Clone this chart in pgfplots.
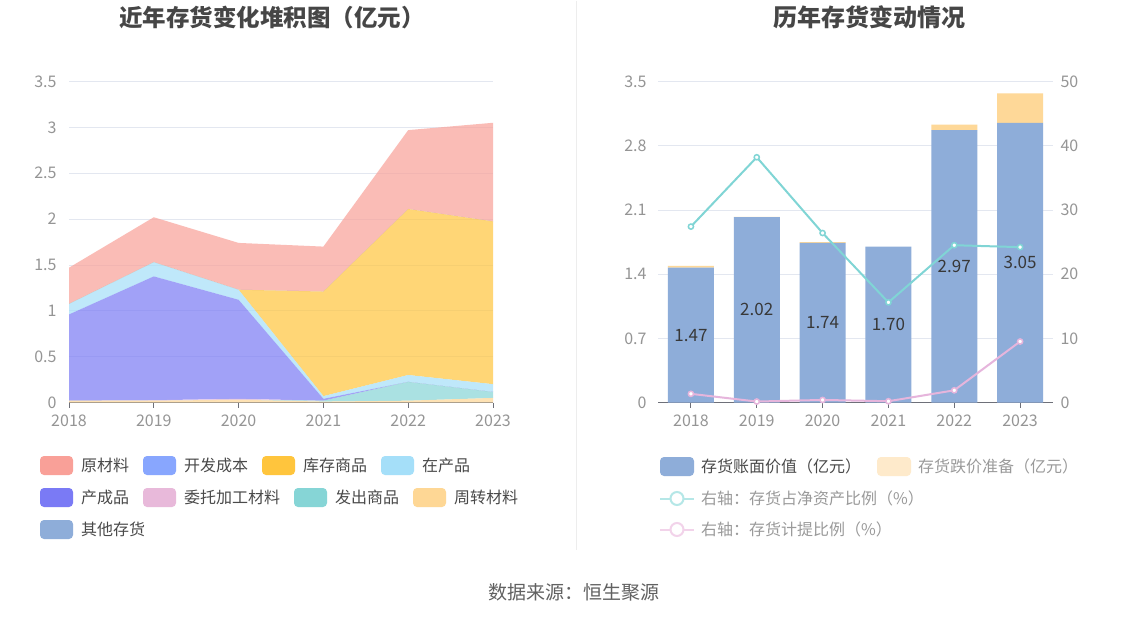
\documentclass[border=0pt]{standalone}
\usepackage{pgfplots}
\pgfplotsset{compat=1.18}
\usepackage{fontspec}
\setmainfont{Noto Sans CJK SC}
\definecolor{tickc}{HTML}{959595}
\definecolor{gridc}{HTML}{E3E7F0}
\definecolor{axisc}{HTML}{6E7079}
\definecolor{titlec}{HTML}{464646}
\definecolor{legc}{HTML}{4A4A4A}
\definecolor{leggrey}{HTML}{9A9A9A}
\definecolor{cRaw}{HTML}{F9A098}
\definecolor{cDev}{HTML}{88A6FE}
\definecolor{cStock}{HTML}{FFC53D}
\definecolor{cWip}{HTML}{A5DFF9}
\definecolor{cFin}{HTML}{7A7AF5}
\definecolor{cEnt}{HTML}{E8B9DA}
\definecolor{cShip}{HTML}{86D5D6}
\definecolor{cTurn}{HTML}{FED795}
\definecolor{cOther}{HTML}{8EADD9}
\definecolor{cBook}{HTML}{8EADD9}
\definecolor{cProv}{HTML}{FED898}
\definecolor{cProvL}{HTML}{FEEACB}
\definecolor{cTeal}{HTML}{80D5D5}
\definecolor{cTealL}{HTML}{B5E7E7}
\definecolor{cPink}{HTML}{E6B5DC}
\definecolor{cPinkL}{HTML}{F2D3EA}
\newcommand{\tfont}{\fontsize{16}{19}\selectfont}
\newcommand{\lfont}{\fontsize{16}{19}\selectfont}
\begin{document}
\begin{tikzpicture}[x=1pt,y=1pt]
\path[fill=white] (0,0) rectangle (1148,-619);
\draw[color=black!7, line width=1pt] (576.5,0) -- (576.5,-549);
% titles
\node[font=\fontsize{23.5}{28}\selectfont\bfseries, text=titlec] at (272,-17) {近年存货变化堆积图（亿元）};
\node[font=\fontsize{24}{28}\selectfont\bfseries, text=titlec] at (869,-17) {历年存货变动情况};
\node[font=\fontsize{19}{23}\selectfont, text=black!62] at (574,-592) {数据来源：恒生聚源};

% ---------------- left stacked area chart ----------------
\begin{axis}[
  at={(69pt,-402pt)}, anchor=south west,
  scale only axis, width=424pt, height=321pt,
  xmin=2018, xmax=2023, ymin=0, ymax=3.5,
  xtick={2018,2019,2020,2021,2022,2023},
  ytick={0,0.5,1,1.5,2,2.5,3,3.5},
  x tick label style={/pgf/number format/1000 sep={}},
  /pgf/number format/assume math mode=true,
  tick label style={font=\tfont, text=tickc},
  separate axis lines,
  axis x line*=bottom, axis y line*=left,
  x axis line style={draw=axisc, line width=1pt},
  y axis line style={draw=none},
  xtick style={draw=axisc, line width=1pt},
  ytick style={draw=none},
  tick align=outside, major tick length=5pt,
  ymajorgrids, major grid style={draw=gridc, line width=0.8pt},
  yticklabel style={xshift=-4pt},
  xticklabel style={yshift=-4pt},
  stack plots=y,
  clip=false,
]
% bottom to top
\addplot[fill=cOther, fill opacity=0.7, draw=none] coordinates {(2018,0) (2019,0) (2020,0) (2021,0) (2022,0) (2023,0)} \closedcycle;
\addplot[fill=cTurn, fill opacity=0.7, draw=none] coordinates {(2018,0.02) (2019,0.02) (2020,0.03) (2021,0.01) (2022,0.02) (2023,0.05)} \closedcycle;
\addplot[fill=cShip, fill opacity=0.7, draw=none] coordinates {(2018,0) (2019,0) (2020,0) (2021,0.01) (2022,0.205) (2023,0.065)} \closedcycle;
\addplot[fill=cEnt, fill opacity=0.7, draw=none] coordinates {(2018,0) (2019,0.005) (2020,0.01) (2021,0) (2022,0) (2023,0)} \closedcycle;
\addplot[fill=cFin, fill opacity=0.7, draw=none] coordinates {(2018,0.94) (2019,1.35) (2020,1.08) (2021,0.02) (2022,0) (2023,0)} \closedcycle;
\addplot[fill=cWip, fill opacity=0.7, draw=none] coordinates {(2018,0.115) (2019,0.155) (2020,0.11) (2021,0.03) (2022,0.075) (2023,0.085)} \closedcycle;
\addplot[fill=cStock, fill opacity=0.7, draw=none] coordinates {(2018,0) (2019,0) (2020,0) (2021,1.14) (2022,1.81) (2023,1.775)} \closedcycle;
\addplot[fill=cDev, fill opacity=0.7, draw=none] coordinates {(2018,0) (2019,0) (2020,0) (2021,0) (2022,0) (2023,0)} \closedcycle;
\addplot[fill=cRaw, fill opacity=0.7, draw=none] coordinates {(2018,0.395) (2019,0.49) (2020,0.51) (2021,0.49) (2022,0.86) (2023,1.075)} \closedcycle;
\end{axis}

% ---------------- right bar chart ----------------
\begin{axis}[
  at={(658pt,-402pt)}, anchor=south west,
  scale only axis, width=395pt, height=321pt,
  xmin=-0.5, xmax=5.5, ymin=0, ymax=3.5,
  xtick={0,1,2,3,4,5},
  xticklabels={2018,2019,2020,2021,2022,2023},
  ytick={0,0.7,1.4,2.1,2.8,3.5},
  /pgf/number format/assume math mode=true,
  tick label style={font=\tfont, text=tickc},
  separate axis lines,
  axis x line*=bottom, axis y line*=left,
  x axis line style={draw=axisc, line width=1pt},
  y axis line style={draw=none},
  xtick style={draw=axisc, line width=1pt},
  ytick style={draw=none},
  tick align=outside, major tick length=5pt,
  ymajorgrids, major grid style={draw=gridc, line width=0.8pt},
  yticklabel style={xshift=-3pt},
  xticklabel style={yshift=-4pt},
  ybar stacked, bar width=46pt,
]
\addplot[fill=cBook, draw=none] coordinates {(0,1.47) (1,2.02) (2,1.74) (3,1.70) (4,2.97) (5,3.05)};
\addplot[fill=cProv, draw=none] coordinates {(0,0.02) (1,0.003) (2,0.01) (3,0) (4,0.06) (5,0.32)};
\end{axis}

% right axis lines
\begin{axis}[
  at={(658pt,-402pt)}, anchor=south west,
  scale only axis, width=395pt, height=321pt,
  xmin=-0.5, xmax=5.5, ymin=0, ymax=50,
  axis x line=none,
  axis y line*=right,
  y axis line style={draw=none},
  ytick={0,10,20,30,40,50},
  ytick style={draw=none},
  /pgf/number format/assume math mode=true,
  tick label style={font=\tfont, text=tickc},
  yticklabel style={xshift=4pt},
  clip=false,
]
\addplot[color=cTeal, line width=2pt, mark=*, mark size=2.6pt, mark options={fill=white, draw=cTeal, line width=1.5pt}] coordinates {(0,27.4) (1,38.2) (2,26.4) (3,15.6) (4,24.5) (5,24.2)};
\addplot[color=cPink, line width=2pt, mark=*, mark size=2.6pt, mark options={fill=white, draw=cPink, line width=1.5pt}] coordinates {(0,1.35) (1,0.15) (2,0.4) (3,0.2) (4,1.9) (5,9.5)};
\end{axis}

% bar value labels
\begin{axis}[
  at={(658pt,-402pt)}, anchor=south west,
  scale only axis, width=395pt, height=321pt,
  xmin=-0.5, xmax=5.5, ymin=0, ymax=3.5,
  hide axis, clip=false,
]
\addplot[draw=none, mark=none, point meta=explicit symbolic,
  nodes near coords,
  every node near coord/.style={anchor=center, font=\fontsize{17}{20}\selectfont, text=black!78}]
  coordinates {(0,0.735)[1.47] (1,1.01)[2.02] (2,0.87)[1.74] (3,0.85)[1.70] (4,1.485)[2.97] (5,1.525)[3.05]};
\end{axis}

% ---------------- legends ----------------
\newcommand{\sw}[4]{%
  \fill[#3, rounded corners=4pt] (#1,#2+9.5) rectangle (#1+33,#2-9.5);
  \node[anchor=west, font=\lfont, text=legc, inner sep=0pt] at (#1+41,#2) {#4};}
\sw{40}{-465}{cRaw}{原材料}
\sw{143}{-465}{cDev}{开发成本}
\sw{262}{-465}{cStock}{库存商品}
\sw{381}{-465}{cWip}{在产品}
\sw{40}{-497}{cFin}{产成品}
\sw{143}{-497}{cEnt}{委托加工材料}
\sw{294}{-497}{cShip}{发出商品}
\sw{413}{-497}{cTurn}{周转材料}
\sw{40}{-529}{cOther}{其他存货}

\fill[cBook, rounded corners=4pt] (660,-456.5) rectangle (694,-475.5);
\node[anchor=west, font=\lfont, text=legc, inner sep=0pt] at (701,-466) {存货账面价值（亿元）};
\fill[cProvL, rounded corners=4pt] (877,-456.5) rectangle (911,-475.5);
\node[anchor=west, font=\lfont, text=leggrey, inner sep=0pt] at (918,-466) {存货跌价准备（亿元）};
\draw[cTealL, line width=2pt] (660,-498) -- (694,-498);
\draw[cTealL, line width=2pt, fill=white] (677,-498) circle (6.5);
\node[anchor=west, font=\lfont, text=leggrey, inner sep=0pt] at (701,-498) {右轴：存货占净资产比例（\%）};
\draw[cPinkL, line width=2pt] (660,-529) -- (694,-529);
\draw[cPinkL, line width=2pt, fill=white] (677,-529) circle (6.5);
\node[anchor=west, font=\lfont, text=leggrey, inner sep=0pt] at (701,-529) {右轴：存货计提比例（\%）};
\end{tikzpicture}
\end{document}
